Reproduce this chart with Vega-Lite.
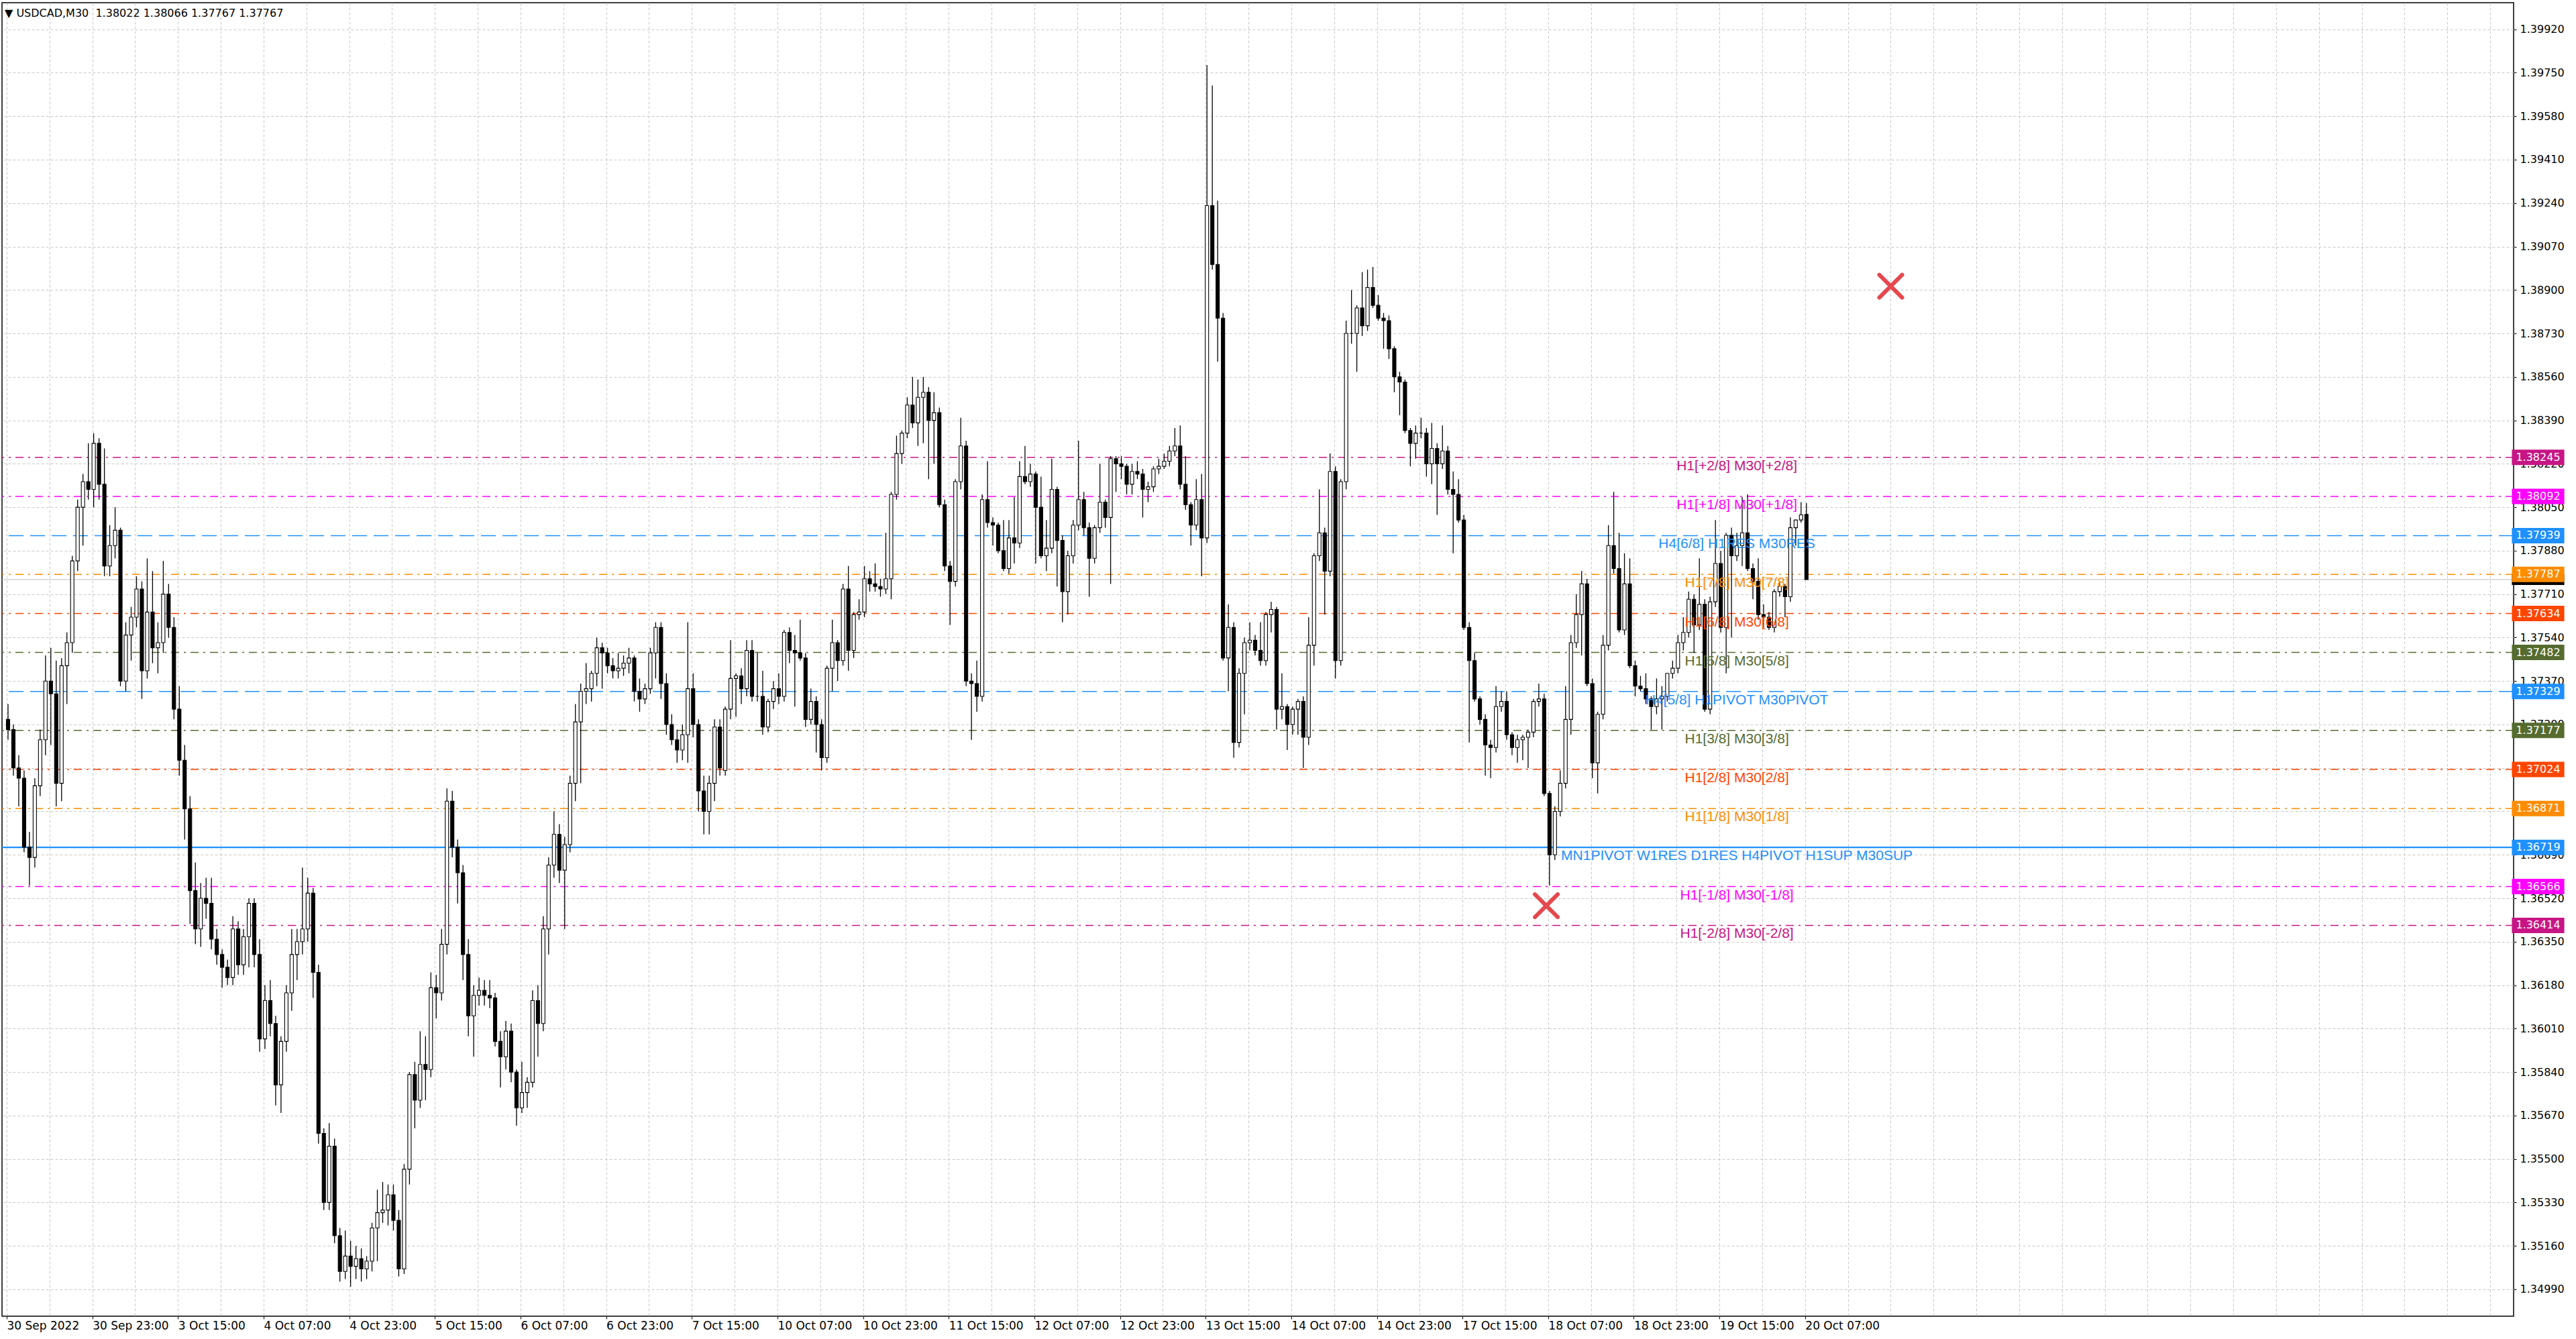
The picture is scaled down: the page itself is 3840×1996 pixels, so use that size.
{
  "$schema": "https://vega.github.io/schema/vega-lite/v6.json",
  "width": 3744,
  "height": 1958,
  "autosize": {"type": "none"},
  "padding": {"left": 3, "top": 4, "right": 93, "bottom": 34},
  "background": "#ffffff",
  "title": {
    "text": "▼ USDCAD,M30\u00a0 1.38022 1.38066 1.37767 1.37767",
    "anchor": "start",
    "frame": "group",
    "offset": -24,
    "dx": 4,
    "font": "DejaVu Sans",
    "fontSize": 16,
    "fontWeight": "normal",
    "color": "#000000"
  },
  "config": {
    "view": {"stroke": "#000000", "strokeWidth": 1.5}
  },
  "resolve": {"axis": {"x": "independent", "y": "independent"}},
  "datasets": {
    "levels": [
      {"v": 1.38245, "t": "H1[+2/8] M30[+2/8]", "k": "p2"},
      {"v": 1.38092, "t": "H1[+1/8] M30[+1/8]", "k": "p1"},
      {"v": 1.37939, "t": "H4[6/8] H1RES M30RES", "k": "res"},
      {"v": 1.37787, "t": "H1[7/8] M30[7/8]", "k": "l7"},
      {"v": 1.37634, "t": "H1[6/8] M30[6/8]", "k": "l6"},
      {"v": 1.37482, "t": "H1[5/8] M30[5/8]", "k": "l5"},
      {"v": 1.37329, "t": "H4[5/8] H1PIVOT M30PIVOT", "k": "piv"},
      {"v": 1.37177, "t": "H1[3/8] M30[3/8]", "k": "l3"},
      {"v": 1.37024, "t": "H1[2/8] M30[2/8]", "k": "l2"},
      {"v": 1.36871, "t": "H1[1/8] M30[1/8]", "k": "l1"},
      {"v": 1.36719, "t": "MN1PIVOT W1RES D1RES H4PIVOT H1SUP M30SUP", "k": "sup"},
      {"v": 1.36566, "t": "H1[-1/8] M30[-1/8]", "k": "m1"},
      {"v": 1.36414, "t": "H1[-2/8] M30[-2/8]", "k": "m2"}
    ],
    "bid": [{"v": 1.37767}],
    "marks": [
      {"i": 351.75, "p": 1.38915},
      {"i": 287.4, "p": 1.36491}
    ],
    "candles": [
      {"i":0,"o":1.3722,"h":1.3728,"l":1.3714,"c":1.3718},
      {"i":1,"o":1.3718,"h":1.3720,"l":1.3700,"c":1.3703},
      {"i":2,"o":1.3703,"h":1.3708,"l":1.3688,"c":1.3699},
      {"i":3,"o":1.3699,"h":1.3702,"l":1.3670,"c":1.3672},
      {"i":4,"o":1.3672,"h":1.3678,"l":1.3657,"c":1.3668},
      {"i":5,"o":1.3668,"h":1.3699,"l":1.3664,"c":1.3696},
      {"i":6,"o":1.3696,"h":1.3718,"l":1.3692,"c":1.3714},
      {"i":7,"o":1.3714,"h":1.3747,"l":1.3708,"c":1.3737},
      {"i":8,"o":1.3737,"h":1.3750,"l":1.3712,"c":1.3732},
      {"i":9,"o":1.3732,"h":1.3745,"l":1.3688,"c":1.3697},
      {"i":10,"o":1.3697,"h":1.3746,"l":1.3690,"c":1.3743},
      {"i":11,"o":1.3743,"h":1.3756,"l":1.3728,"c":1.3752},
      {"i":12,"o":1.3752,"h":1.3786,"l":1.3748,"c":1.3784},
      {"i":13,"o":1.3784,"h":1.3808,"l":1.3780,"c":1.3805},
      {"i":14,"o":1.3805,"h":1.3818,"l":1.3790,"c":1.3815},
      {"i":15,"o":1.3815,"h":1.3830,"l":1.3808,"c":1.3812},
      {"i":16,"o":1.3812,"h":1.3834,"l":1.3805,"c":1.3830},
      {"i":17,"o":1.3830,"h":1.3832,"l":1.3808,"c":1.3814},
      {"i":18,"o":1.3814,"h":1.3828,"l":1.3778,"c":1.3782},
      {"i":19,"o":1.3782,"h":1.3798,"l":1.3778,"c":1.3790},
      {"i":20,"o":1.3790,"h":1.3805,"l":1.3785,"c":1.3796},
      {"i":21,"o":1.3796,"h":1.3797,"l":1.3735,"c":1.3737},
      {"i":22,"o":1.3737,"h":1.3760,"l":1.3733,"c":1.3755},
      {"i":23,"o":1.3755,"h":1.3766,"l":1.3745,"c":1.3762},
      {"i":24,"o":1.3762,"h":1.3778,"l":1.3758,"c":1.3773},
      {"i":25,"o":1.3773,"h":1.3776,"l":1.3730,"c":1.3741},
      {"i":26,"o":1.3741,"h":1.3785,"l":1.3738,"c":1.3764},
      {"i":27,"o":1.3764,"h":1.3780,"l":1.3744,"c":1.3750},
      {"i":28,"o":1.3750,"h":1.3760,"l":1.3740,"c":1.3752},
      {"i":29,"o":1.3752,"h":1.3784,"l":1.3748,"c":1.3771},
      {"i":30,"o":1.3771,"h":1.3775,"l":1.3754,"c":1.3758},
      {"i":31,"o":1.3758,"h":1.3762,"l":1.3722,"c":1.3726},
      {"i":32,"o":1.3726,"h":1.3735,"l":1.3700,"c":1.3706},
      {"i":33,"o":1.3706,"h":1.3712,"l":1.3675,"c":1.3687},
      {"i":34,"o":1.3687,"h":1.3692,"l":1.3642,"c":1.3655},
      {"i":35,"o":1.3655,"h":1.3666,"l":1.3634,"c":1.3640},
      {"i":36,"o":1.3640,"h":1.3658,"l":1.3633,"c":1.3652},
      {"i":37,"o":1.3652,"h":1.3660,"l":1.3644,"c":1.3650},
      {"i":38,"o":1.3650,"h":1.3660,"l":1.3632,"c":1.3636},
      {"i":39,"o":1.3636,"h":1.3640,"l":1.3626,"c":1.3630},
      {"i":40,"o":1.3630,"h":1.3632,"l":1.3617,"c":1.3625},
      {"i":41,"o":1.3625,"h":1.3628,"l":1.3618,"c":1.3621},
      {"i":42,"o":1.3621,"h":1.3645,"l":1.3618,"c":1.3640},
      {"i":43,"o":1.3640,"h":1.3643,"l":1.3622,"c":1.3626},
      {"i":44,"o":1.3626,"h":1.3640,"l":1.3622,"c":1.3637},
      {"i":45,"o":1.3637,"h":1.3652,"l":1.3625,"c":1.3650},
      {"i":46,"o":1.3650,"h":1.3652,"l":1.3625,"c":1.3630},
      {"i":47,"o":1.3630,"h":1.3636,"l":1.3592,"c":1.3597},
      {"i":48,"o":1.3597,"h":1.3618,"l":1.3593,"c":1.3612},
      {"i":49,"o":1.3612,"h":1.3620,"l":1.3598,"c":1.3603},
      {"i":50,"o":1.3603,"h":1.3606,"l":1.3571,"c":1.3579},
      {"i":51,"o":1.3579,"h":1.3598,"l":1.3568,"c":1.3596},
      {"i":52,"o":1.3596,"h":1.3618,"l":1.3592,"c":1.3615},
      {"i":53,"o":1.3615,"h":1.3640,"l":1.3608,"c":1.3630},
      {"i":54,"o":1.3630,"h":1.3640,"l":1.3620,"c":1.3635},
      {"i":55,"o":1.3635,"h":1.3664,"l":1.3630,"c":1.3640},
      {"i":56,"o":1.3640,"h":1.3660,"l":1.3635,"c":1.3654},
      {"i":57,"o":1.3654,"h":1.3656,"l":1.3613,"c":1.3623},
      {"i":58,"o":1.3623,"h":1.3626,"l":1.3556,"c":1.3560},
      {"i":59,"o":1.3560,"h":1.3562,"l":1.3530,"c":1.3533},
      {"i":60,"o":1.3533,"h":1.3564,"l":1.3530,"c":1.3555},
      {"i":61,"o":1.3555,"h":1.3558,"l":1.3517,"c":1.3520},
      {"i":62,"o":1.3520,"h":1.3523,"l":1.3502,"c":1.3506},
      {"i":63,"o":1.3506,"h":1.3522,"l":1.3503,"c":1.3512},
      {"i":64,"o":1.3512,"h":1.3518,"l":1.3500,"c":1.3508},
      {"i":65,"o":1.3508,"h":1.3516,"l":1.3503,"c":1.3511},
      {"i":66,"o":1.3511,"h":1.3515,"l":1.3502,"c":1.3507},
      {"i":67,"o":1.3507,"h":1.3512,"l":1.3503,"c":1.3510},
      {"i":68,"o":1.3510,"h":1.3525,"l":1.3506,"c":1.3523},
      {"i":69,"o":1.3523,"h":1.3538,"l":1.3510,"c":1.3529},
      {"i":70,"o":1.3529,"h":1.3541,"l":1.3525,"c":1.3530},
      {"i":71,"o":1.3530,"h":1.3540,"l":1.3524,"c":1.3536},
      {"i":72,"o":1.3536,"h":1.3540,"l":1.3522,"c":1.3526},
      {"i":73,"o":1.3526,"h":1.3530,"l":1.3504,"c":1.3507},
      {"i":74,"o":1.3507,"h":1.3548,"l":1.3505,"c":1.3546},
      {"i":75,"o":1.3546,"h":1.3584,"l":1.3540,"c":1.3583},
      {"i":76,"o":1.3583,"h":1.3588,"l":1.3562,"c":1.3573},
      {"i":77,"o":1.3573,"h":1.3600,"l":1.3570,"c":1.3587},
      {"i":78,"o":1.3587,"h":1.3598,"l":1.3573,"c":1.3585},
      {"i":79,"o":1.3585,"h":1.3623,"l":1.3582,"c":1.3617},
      {"i":80,"o":1.3617,"h":1.3622,"l":1.3605,"c":1.3615},
      {"i":81,"o":1.3615,"h":1.3640,"l":1.3612,"c":1.3634},
      {"i":82,"o":1.3634,"h":1.3695,"l":1.3630,"c":1.3690},
      {"i":83,"o":1.3690,"h":1.3694,"l":1.3668,"c":1.3672},
      {"i":84,"o":1.3672,"h":1.3675,"l":1.3650,"c":1.3662},
      {"i":85,"o":1.3662,"h":1.3665,"l":1.3620,"c":1.3630},
      {"i":86,"o":1.3630,"h":1.3636,"l":1.3598,"c":1.3606},
      {"i":87,"o":1.3606,"h":1.3618,"l":1.3590,"c":1.3614},
      {"i":88,"o":1.3614,"h":1.3621,"l":1.3610,"c":1.3616},
      {"i":89,"o":1.3616,"h":1.3620,"l":1.3610,"c":1.3614},
      {"i":90,"o":1.3614,"h":1.3620,"l":1.3609,"c":1.3613},
      {"i":91,"o":1.3613,"h":1.3615,"l":1.3594,"c":1.3596},
      {"i":92,"o":1.3596,"h":1.3600,"l":1.3578,"c":1.3590},
      {"i":93,"o":1.3590,"h":1.3604,"l":1.3585,"c":1.3600},
      {"i":94,"o":1.3600,"h":1.3603,"l":1.3580,"c":1.3584},
      {"i":95,"o":1.3584,"h":1.3585,"l":1.3563,"c":1.3570},
      {"i":96,"o":1.3570,"h":1.3588,"l":1.3568,"c":1.3576},
      {"i":97,"o":1.3576,"h":1.3582,"l":1.3570,"c":1.3580},
      {"i":98,"o":1.3580,"h":1.3616,"l":1.3578,"c":1.3612},
      {"i":99,"o":1.3612,"h":1.3618,"l":1.3590,"c":1.3603},
      {"i":100,"o":1.3603,"h":1.3645,"l":1.3600,"c":1.3640},
      {"i":101,"o":1.3640,"h":1.3668,"l":1.3630,"c":1.3665},
      {"i":102,"o":1.3665,"h":1.3686,"l":1.3660,"c":1.3677},
      {"i":103,"o":1.3677,"h":1.3681,"l":1.3658,"c":1.3663},
      {"i":104,"o":1.3663,"h":1.3676,"l":1.3640,"c":1.3673},
      {"i":105,"o":1.3673,"h":1.3700,"l":1.3670,"c":1.3697},
      {"i":106,"o":1.3697,"h":1.3728,"l":1.3690,"c":1.3721},
      {"i":107,"o":1.3721,"h":1.3736,"l":1.3697,"c":1.3733},
      {"i":108,"o":1.3733,"h":1.3744,"l":1.3728,"c":1.3734},
      {"i":109,"o":1.3734,"h":1.3741,"l":1.3729,"c":1.3740},
      {"i":110,"o":1.3740,"h":1.3754,"l":1.3735,"c":1.3750},
      {"i":111,"o":1.3750,"h":1.3752,"l":1.3734,"c":1.3748},
      {"i":112,"o":1.3748,"h":1.3750,"l":1.3740,"c":1.3743},
      {"i":113,"o":1.3743,"h":1.3746,"l":1.3738,"c":1.3741},
      {"i":114,"o":1.3741,"h":1.3748,"l":1.3738,"c":1.3742},
      {"i":115,"o":1.3742,"h":1.3747,"l":1.3739,"c":1.3744},
      {"i":116,"o":1.3744,"h":1.3750,"l":1.3740,"c":1.3746},
      {"i":117,"o":1.3746,"h":1.3747,"l":1.3729,"c":1.3733},
      {"i":118,"o":1.3733,"h":1.3738,"l":1.3725,"c":1.3730},
      {"i":119,"o":1.3730,"h":1.3736,"l":1.3728,"c":1.3734},
      {"i":120,"o":1.3734,"h":1.3750,"l":1.3732,"c":1.3748},
      {"i":121,"o":1.3748,"h":1.3760,"l":1.3738,"c":1.3758},
      {"i":122,"o":1.3758,"h":1.3760,"l":1.3730,"c":1.3736},
      {"i":123,"o":1.3736,"h":1.3740,"l":1.3716,"c":1.3720},
      {"i":124,"o":1.3720,"h":1.3724,"l":1.3712,"c":1.3714},
      {"i":125,"o":1.3714,"h":1.3718,"l":1.3705,"c":1.3710},
      {"i":126,"o":1.3710,"h":1.3720,"l":1.3706,"c":1.3716},
      {"i":127,"o":1.3716,"h":1.3760,"l":1.3705,"c":1.3734},
      {"i":128,"o":1.3734,"h":1.3740,"l":1.3715,"c":1.3720},
      {"i":129,"o":1.3720,"h":1.3722,"l":1.3686,"c":1.3694},
      {"i":130,"o":1.3694,"h":1.3700,"l":1.3677,"c":1.3686},
      {"i":131,"o":1.3686,"h":1.3700,"l":1.3677,"c":1.3697},
      {"i":132,"o":1.3697,"h":1.3722,"l":1.3690,"c":1.3719},
      {"i":133,"o":1.3719,"h":1.3722,"l":1.3700,"c":1.3703},
      {"i":134,"o":1.3702,"h":1.3727,"l":1.3700,"c":1.3726},
      {"i":135,"o":1.3726,"h":1.3753,"l":1.3722,"c":1.3738},
      {"i":136,"o":1.3738,"h":1.3740,"l":1.3723,"c":1.3739},
      {"i":137,"o":1.3739,"h":1.3742,"l":1.3728,"c":1.3734},
      {"i":138,"o":1.3734,"h":1.3753,"l":1.3731,"c":1.3749},
      {"i":139,"o":1.3749,"h":1.3753,"l":1.3729,"c":1.3731},
      {"i":140,"o":1.3731,"h":1.3748,"l":1.3729,"c":1.3731},
      {"i":141,"o":1.3731,"h":1.3741,"l":1.3716,"c":1.3719},
      {"i":142,"o":1.3719,"h":1.3730,"l":1.3717,"c":1.3729},
      {"i":143,"o":1.3729,"h":1.3737,"l":1.3726,"c":1.3734},
      {"i":144,"o":1.3734,"h":1.3740,"l":1.3728,"c":1.3731},
      {"i":145,"o":1.3731,"h":1.3757,"l":1.3729,"c":1.3756},
      {"i":146,"o":1.3756,"h":1.3758,"l":1.3744,"c":1.3749},
      {"i":147,"o":1.3749,"h":1.3755,"l":1.3727,"c":1.3748},
      {"i":148,"o":1.3748,"h":1.3761,"l":1.3745,"c":1.3746},
      {"i":149,"o":1.3746,"h":1.3748,"l":1.3719,"c":1.3722},
      {"i":150,"o":1.3722,"h":1.3734,"l":1.3720,"c":1.3729},
      {"i":151,"o":1.3729,"h":1.3731,"l":1.3709,"c":1.3720},
      {"i":152,"o":1.3720,"h":1.3722,"l":1.3702,"c":1.3707},
      {"i":153,"o":1.3707,"h":1.3743,"l":1.3705,"c":1.3742},
      {"i":154,"o":1.3742,"h":1.3761,"l":1.3733,"c":1.3752},
      {"i":155,"o":1.3752,"h":1.3753,"l":1.3737,"c":1.3745},
      {"i":156,"o":1.3745,"h":1.3775,"l":1.3743,"c":1.3773},
      {"i":157,"o":1.3773,"h":1.3782,"l":1.3741,"c":1.3749},
      {"i":158,"o":1.3749,"h":1.3764,"l":1.3746,"c":1.3763},
      {"i":159,"o":1.3763,"h":1.3769,"l":1.3761,"c":1.3764},
      {"i":160,"o":1.3764,"h":1.3782,"l":1.3762,"c":1.3777},
      {"i":161,"o":1.3777,"h":1.3780,"l":1.3772,"c":1.3775},
      {"i":162,"o":1.3775,"h":1.3783,"l":1.3772,"c":1.3774},
      {"i":163,"o":1.3774,"h":1.3777,"l":1.3770,"c":1.3773},
      {"i":164,"o":1.3773,"h":1.3795,"l":1.3771,"c":1.3777},
      {"i":165,"o":1.3777,"h":1.3811,"l":1.3769,"c":1.3810},
      {"i":166,"o":1.3810,"h":1.3833,"l":1.3808,"c":1.3826},
      {"i":167,"o":1.3826,"h":1.3835,"l":1.3822,"c":1.3834},
      {"i":168,"o":1.3834,"h":1.3848,"l":1.3832,"c":1.3845},
      {"i":169,"o":1.3845,"h":1.3856,"l":1.3836,"c":1.3838},
      {"i":170,"o":1.3838,"h":1.3855,"l":1.3829,"c":1.3848},
      {"i":171,"o":1.3848,"h":1.3856,"l":1.3830,"c":1.3850},
      {"i":172,"o":1.3850,"h":1.3852,"l":1.3816,"c":1.3839},
      {"i":173,"o":1.3839,"h":1.3850,"l":1.3822,"c":1.3842},
      {"i":174,"o":1.3842,"h":1.3844,"l":1.3805,"c":1.3806},
      {"i":175,"o":1.3806,"h":1.3808,"l":1.3780,"c":1.3782},
      {"i":176,"o":1.3782,"h":1.3784,"l":1.3759,"c":1.3776},
      {"i":177,"o":1.3776,"h":1.3816,"l":1.3774,"c":1.3815},
      {"i":178,"o":1.3815,"h":1.3840,"l":1.3812,"c":1.3829},
      {"i":179,"o":1.3829,"h":1.3831,"l":1.3735,"c":1.3737},
      {"i":180,"o":1.3737,"h":1.3740,"l":1.3714,"c":1.3736},
      {"i":181,"o":1.3736,"h":1.3745,"l":1.3725,"c":1.3731},
      {"i":182,"o":1.3731,"h":1.3810,"l":1.3729,"c":1.3808},
      {"i":183,"o":1.3808,"h":1.3823,"l":1.3797,"c":1.3799},
      {"i":184,"o":1.3799,"h":1.3801,"l":1.3790,"c":1.3798},
      {"i":185,"o":1.3798,"h":1.3799,"l":1.3787,"c":1.3788},
      {"i":186,"o":1.3788,"h":1.3800,"l":1.3780,"c":1.3781},
      {"i":187,"o":1.3781,"h":1.3800,"l":1.3779,"c":1.3793},
      {"i":188,"o":1.3793,"h":1.3809,"l":1.3783,"c":1.3791},
      {"i":189,"o":1.3791,"h":1.3823,"l":1.3789,"c":1.3817},
      {"i":190,"o":1.3817,"h":1.3829,"l":1.3814,"c":1.3815},
      {"i":191,"o":1.3815,"h":1.3822,"l":1.3813,"c":1.3818},
      {"i":192,"o":1.3818,"h":1.3819,"l":1.3783,"c":1.3805},
      {"i":193,"o":1.3805,"h":1.3817,"l":1.3785,"c":1.3786},
      {"i":194,"o":1.3786,"h":1.3800,"l":1.3780,"c":1.3789},
      {"i":195,"o":1.3789,"h":1.3824,"l":1.3787,"c":1.3812},
      {"i":196,"o":1.3812,"h":1.3813,"l":1.3774,"c":1.3792},
      {"i":197,"o":1.3792,"h":1.3794,"l":1.3760,"c":1.3772},
      {"i":198,"o":1.3772,"h":1.3788,"l":1.3763,"c":1.3786},
      {"i":199,"o":1.3786,"h":1.3800,"l":1.3783,"c":1.3798},
      {"i":200,"o":1.3798,"h":1.3831,"l":1.3796,"c":1.3808},
      {"i":201,"o":1.3808,"h":1.3811,"l":1.3794,"c":1.3797},
      {"i":202,"o":1.3797,"h":1.3799,"l":1.3770,"c":1.3785},
      {"i":203,"o":1.3785,"h":1.3798,"l":1.3783,"c":1.3797},
      {"i":204,"o":1.3797,"h":1.3822,"l":1.3795,"c":1.3807},
      {"i":205,"o":1.3807,"h":1.3808,"l":1.3797,"c":1.3801},
      {"i":206,"o":1.3801,"h":1.3825,"l":1.3775,"c":1.3824},
      {"i":207,"o":1.3824,"h":1.3825,"l":1.3811,"c":1.3822},
      {"i":208,"o":1.3822,"h":1.3825,"l":1.3816,"c":1.3821},
      {"i":209,"o":1.3821,"h":1.3822,"l":1.3810,"c":1.3814},
      {"i":210,"o":1.3814,"h":1.3822,"l":1.3810,"c":1.3819},
      {"i":211,"o":1.3819,"h":1.3823,"l":1.3816,"c":1.3818},
      {"i":212,"o":1.3818,"h":1.3820,"l":1.3801,"c":1.3812},
      {"i":213,"o":1.3812,"h":1.3815,"l":1.3807,"c":1.3813},
      {"i":214,"o":1.3813,"h":1.3821,"l":1.3811,"c":1.3820},
      {"i":215,"o":1.3820,"h":1.3824,"l":1.3818,"c":1.3821},
      {"i":216,"o":1.3821,"h":1.3826,"l":1.3820,"c":1.3823},
      {"i":217,"o":1.3823,"h":1.3829,"l":1.3821,"c":1.3827},
      {"i":218,"o":1.3827,"h":1.3836,"l":1.3825,"c":1.3829},
      {"i":219,"o":1.3829,"h":1.3837,"l":1.3812,"c":1.3814},
      {"i":220,"o":1.3814,"h":1.3825,"l":1.3804,"c":1.3806},
      {"i":221,"o":1.3806,"h":1.3807,"l":1.3790,"c":1.3798},
      {"i":222,"o":1.3798,"h":1.3816,"l":1.3796,"c":1.3808},
      {"i":223,"o":1.3808,"h":1.3818,"l":1.3778,"c":1.3793},
      {"i":224,"o":1.3793,"h":1.3978,"l":1.3791,"c":1.3923},
      {"i":225,"o":1.3923,"h":1.3970,"l":1.3898,"c":1.3900},
      {"i":226,"o":1.3900,"h":1.3925,"l":1.3862,"c":1.3879},
      {"i":227,"o":1.3879,"h":1.3881,"l":1.3745,"c":1.3746},
      {"i":228,"o":1.3746,"h":1.3767,"l":1.3733,"c":1.3758},
      {"i":229,"o":1.3758,"h":1.3760,"l":1.3707,"c":1.3713},
      {"i":230,"o":1.3713,"h":1.3742,"l":1.3711,"c":1.3740},
      {"i":231,"o":1.3740,"h":1.3754,"l":1.3724,"c":1.3752},
      {"i":232,"o":1.3752,"h":1.3760,"l":1.3749,"c":1.3753},
      {"i":233,"o":1.3753,"h":1.3755,"l":1.3747,"c":1.3749},
      {"i":234,"o":1.3749,"h":1.3760,"l":1.3743,"c":1.3745},
      {"i":235,"o":1.3745,"h":1.3764,"l":1.3743,"c":1.3763},
      {"i":236,"o":1.3763,"h":1.3768,"l":1.3756,"c":1.3765},
      {"i":237,"o":1.3765,"h":1.3766,"l":1.3718,"c":1.3726},
      {"i":238,"o":1.3726,"h":1.3740,"l":1.3722,"c":1.3727},
      {"i":239,"o":1.3727,"h":1.3728,"l":1.3710,"c":1.3720},
      {"i":240,"o":1.3720,"h":1.3727,"l":1.3716,"c":1.3726},
      {"i":241,"o":1.3726,"h":1.3730,"l":1.3716,"c":1.3729},
      {"i":242,"o":1.3729,"h":1.3731,"l":1.3703,"c":1.3715},
      {"i":243,"o":1.3715,"h":1.3762,"l":1.3712,"c":1.3751},
      {"i":244,"o":1.3751,"h":1.3787,"l":1.3743,"c":1.3786},
      {"i":245,"o":1.3786,"h":1.3812,"l":1.3784,"c":1.3795},
      {"i":246,"o":1.3795,"h":1.3797,"l":1.3763,"c":1.3780},
      {"i":247,"o":1.3780,"h":1.3826,"l":1.3778,"c":1.3819},
      {"i":248,"o":1.3819,"h":1.3821,"l":1.3738,"c":1.3745},
      {"i":249,"o":1.3745,"h":1.3816,"l":1.3743,"c":1.3815},
      {"i":250,"o":1.3815,"h":1.3878,"l":1.3812,"c":1.3873},
      {"i":251,"o":1.3873,"h":1.3890,"l":1.3869,"c":1.3873},
      {"i":252,"o":1.3873,"h":1.3884,"l":1.3858,"c":1.3883},
      {"i":253,"o":1.3883,"h":1.3897,"l":1.3872,"c":1.3876},
      {"i":254,"o":1.3876,"h":1.3898,"l":1.3874,"c":1.3891},
      {"i":255,"o":1.3891,"h":1.3899,"l":1.3883,"c":1.3884},
      {"i":256,"o":1.3884,"h":1.3888,"l":1.3878,"c":1.3879},
      {"i":257,"o":1.3879,"h":1.3881,"l":1.3867,"c":1.3878},
      {"i":258,"o":1.3878,"h":1.3880,"l":1.3863,"c":1.3867},
      {"i":259,"o":1.3867,"h":1.3868,"l":1.3850,"c":1.3856},
      {"i":260,"o":1.3856,"h":1.3858,"l":1.3841,"c":1.3854},
      {"i":261,"o":1.3854,"h":1.3855,"l":1.3834,"c":1.3835},
      {"i":262,"o":1.3835,"h":1.3836,"l":1.3821,"c":1.3830},
      {"i":263,"o":1.3830,"h":1.3837,"l":1.3824,"c":1.3834},
      {"i":264,"o":1.3834,"h":1.3840,"l":1.3832,"c":1.3834},
      {"i":265,"o":1.3834,"h":1.3836,"l":1.3817,"c":1.3822},
      {"i":266,"o":1.3822,"h":1.3838,"l":1.3814,"c":1.3828},
      {"i":267,"o":1.3828,"h":1.3830,"l":1.3802,"c":1.3822},
      {"i":268,"o":1.3822,"h":1.3837,"l":1.3820,"c":1.3827},
      {"i":269,"o":1.3827,"h":1.3829,"l":1.3810,"c":1.3812},
      {"i":270,"o":1.3812,"h":1.3819,"l":1.3787,"c":1.3810},
      {"i":271,"o":1.3810,"h":1.3816,"l":1.3799,"c":1.3800},
      {"i":272,"o":1.3800,"h":1.3802,"l":1.3757,"c":1.3758},
      {"i":273,"o":1.3758,"h":1.3760,"l":1.3713,"c":1.3745},
      {"i":274,"o":1.3745,"h":1.3748,"l":1.3729,"c":1.3730},
      {"i":275,"o":1.3730,"h":1.3731,"l":1.3720,"c":1.3722},
      {"i":276,"o":1.3722,"h":1.3724,"l":1.3700,"c":1.3712},
      {"i":277,"o":1.3712,"h":1.3714,"l":1.3699,"c":1.3711},
      {"i":278,"o":1.3711,"h":1.3735,"l":1.3709,"c":1.3727},
      {"i":279,"o":1.3727,"h":1.3733,"l":1.3725,"c":1.3729},
      {"i":280,"o":1.3729,"h":1.3733,"l":1.3714,"c":1.3716},
      {"i":281,"o":1.3716,"h":1.3717,"l":1.3708,"c":1.3711},
      {"i":282,"o":1.3711,"h":1.3716,"l":1.3705,"c":1.3714},
      {"i":283,"o":1.3714,"h":1.3716,"l":1.3706,"c":1.3715},
      {"i":284,"o":1.3715,"h":1.3718,"l":1.3703,"c":1.3717},
      {"i":285,"o":1.3717,"h":1.3730,"l":1.3715,"c":1.3729},
      {"i":286,"o":1.3729,"h":1.3736,"l":1.3727,"c":1.3730},
      {"i":287,"o":1.3730,"h":1.3732,"l":1.3692,"c":1.3693},
      {"i":288,"o":1.3693,"h":1.3694,"l":1.3657,"c":1.3669},
      {"i":289,"o":1.3669,"h":1.3688,"l":1.3667,"c":1.3686},
      {"i":290,"o":1.3686,"h":1.3702,"l":1.3684,"c":1.3697},
      {"i":291,"o":1.3697,"h":1.3735,"l":1.3695,"c":1.3722},
      {"i":292,"o":1.3722,"h":1.3755,"l":1.3716,"c":1.3752},
      {"i":293,"o":1.3752,"h":1.3771,"l":1.3750,"c":1.3763},
      {"i":294,"o":1.3763,"h":1.3780,"l":1.3747,"c":1.3775},
      {"i":295,"o":1.3775,"h":1.3777,"l":1.3735,"c":1.3736},
      {"i":296,"o":1.3736,"h":1.3738,"l":1.3699,"c":1.3705},
      {"i":297,"o":1.3705,"h":1.3725,"l":1.3693,"c":1.3724},
      {"i":298,"o":1.3724,"h":1.3755,"l":1.3722,"c":1.3751},
      {"i":299,"o":1.3751,"h":1.3798,"l":1.3749,"c":1.3790},
      {"i":300,"o":1.3790,"h":1.3811,"l":1.3779,"c":1.3781},
      {"i":301,"o":1.3781,"h":1.3795,"l":1.3756,"c":1.3757},
      {"i":302,"o":1.3757,"h":1.3787,"l":1.3755,"c":1.3775},
      {"i":303,"o":1.3775,"h":1.3785,"l":1.3742,"c":1.3743},
      {"i":304,"o":1.3743,"h":1.3745,"l":1.3731,"c":1.3735},
      {"i":305,"o":1.3735,"h":1.3739,"l":1.3733,"c":1.3734},
      {"i":306,"o":1.3734,"h":1.3740,"l":1.3728,"c":1.3730},
      {"i":307,"o":1.3730,"h":1.3731,"l":1.3718,"c":1.3727},
      {"i":308,"o":1.3727,"h":1.3738,"l":1.3724,"c":1.3730},
      {"i":309,"o":1.3730,"h":1.3735,"l":1.3718,"c":1.3731},
      {"i":310,"o":1.3731,"h":1.3740,"l":1.3729,"c":1.3740},
      {"i":311,"o":1.3740,"h":1.3745,"l":1.3738,"c":1.3742},
      {"i":312,"o":1.3742,"h":1.3755,"l":1.3740,"c":1.3752},
      {"i":313,"o":1.3752,"h":1.3762,"l":1.3749,"c":1.3756},
      {"i":314,"o":1.3756,"h":1.3772,"l":1.3754,"c":1.3769},
      {"i":315,"o":1.3769,"h":1.3771,"l":1.3748,"c":1.3759},
      {"i":316,"o":1.3759,"h":1.3785,"l":1.3757,"c":1.3767},
      {"i":317,"o":1.3767,"h":1.3769,"l":1.3725,"c":1.3726},
      {"i":318,"o":1.3726,"h":1.3770,"l":1.3724,"c":1.3768},
      {"i":319,"o":1.3768,"h":1.3800,"l":1.3766,"c":1.3783},
      {"i":320,"o":1.3783,"h":1.3788,"l":1.3756,"c":1.3758},
      {"i":321,"o":1.3758,"h":1.3795,"l":1.3740,"c":1.3794},
      {"i":322,"o":1.3794,"h":1.3797,"l":1.3754,"c":1.3786},
      {"i":323,"o":1.3786,"h":1.3795,"l":1.3784,"c":1.3790},
      {"i":324,"o":1.3790,"h":1.3809,"l":1.3782,"c":1.3795},
      {"i":325,"o":1.3795,"h":1.3810,"l":1.3780,"c":1.3781},
      {"i":326,"o":1.3781,"h":1.3783,"l":1.3769,"c":1.3776},
      {"i":327,"o":1.3776,"h":1.3785,"l":1.3761,"c":1.3763},
      {"i":328,"o":1.3763,"h":1.3767,"l":1.3758,"c":1.3762},
      {"i":329,"o":1.3762,"h":1.3764,"l":1.3757,"c":1.3758},
      {"i":330,"o":1.3758,"h":1.3773,"l":1.3756,"c":1.3772},
      {"i":331,"o":1.3772,"h":1.3776,"l":1.3770,"c":1.3774},
      {"i":332,"o":1.3774,"h":1.3775,"l":1.3762,"c":1.3770},
      {"i":333,"o":1.3770,"h":1.3801,"l":1.3768,"c":1.3797},
      {"i":334,"o":1.3797,"h":1.3800,"l":1.3790,"c":1.3800},
      {"i":335,"o":1.3800,"h":1.3807,"l":1.3799,"c":1.3802},
      {"i":336,"o":1.38022,"h":1.38066,"l":1.37767,"c":1.37767}
    ]
  },
  "layer": [
    {
      "data": {"name": "bid"},
      "mark": {"type": "rule", "color": "#bdbdbd", "strokeWidth": 1},
      "encoding": {
        "y": {
          "field": "v",
          "type": "quantitative",
          "scale": {"domain": [1.34898, 1.40011], "nice": false, "zero": false},
          "axis": {
            "orient": "right",
            "title": null,
            "values": [1.3499, 1.3516, 1.3533, 1.355, 1.3567, 1.3584, 1.3601, 1.3618, 1.3635, 1.3652, 1.3669, 1.3686, 1.3703, 1.372, 1.3737, 1.3754, 1.3771, 1.3788, 1.3805, 1.3822, 1.3839, 1.3856, 1.3873, 1.389, 1.3907, 1.3924, 1.3941, 1.3958, 1.3975, 1.3992],
            "format": ".5f",
            "grid": true,
            "gridColor": "#c8c8c8",
            "gridDash": [4, 3],
            "gridWidth": 1,
            "domain": false,
            "tickSize": 4,
            "tickColor": "#000000",
            "labelFont": "DejaVu Sans",
            "labelFontSize": 16,
            "labelColor": "#000000",
            "labelPadding": 5,
            "labelOverlap": false,
            "labelBound": false,
            "labelFlush": false
          }
        }
      }
    },
    {
      "data": {"name": "levels"},
      "mark": {"type": "rule"},
      "encoding": {
        "y": {"field": "v", "type": "quantitative", "axis": null},
        "color": {
          "field": "k",
          "type": "nominal",
          "legend": null,
          "scale": {
            "domain": ["p2", "p1", "res", "l7", "l6", "l5", "piv", "l3", "l2", "l1", "sup", "m1", "m2"],
            "range": ["#C71585", "#FF00FF", "#1E90FF", "#FF8C00", "#FF4500", "#556B2F", "#1E90FF", "#556B2F", "#FF4500", "#FF8C00", "#1E90FF", "#FF00FF", "#C71585"]
          }
        },
        "strokeDash": {
          "condition": [
            {"test": "datum.k === 'sup'", "value": [1, 0]},
            {"test": "datum.k === 'res' || datum.k === 'piv'", "value": [22, 10]}
          ],
          "value": [12, 7, 3, 7]
        },
        "strokeWidth": {
          "condition": {"test": "datum.k === 'sup'", "value": 2.2},
          "value": 1.5
        }
      }
    },
    {
      "data": {"name": "candles"},
      "mark": {"type": "rule", "color": "#000000", "strokeWidth": 1.3},
      "encoding": {
        "x": {
          "field": "i",
          "type": "quantitative",
          "scale": {"domain": [-0.5, 467.5], "nice": false, "zero": false},
          "axis": {
            "orient": "bottom",
            "title": null,
            "values": [-0.25, 7.75, 15.75, 23.75, 31.75, 39.75, 47.75, 55.75, 63.75, 71.75, 79.75, 87.75, 95.75, 103.75, 111.75, 119.75, 127.75, 135.75, 143.75, 151.75, 159.75, 167.75, 175.75, 183.75, 191.75, 199.75, 207.75, 215.75, 223.75, 231.75, 239.75, 247.75, 255.75, 263.75, 271.75, 279.75, 287.75, 295.75, 303.75, 311.75, 319.75, 327.75, 335.75, 343.75, 351.75, 359.75, 367.75, 375.75, 383.75, 391.75, 399.75, 407.75, 415.75, 423.75, 431.75, 439.75, 447.75, 455.75, 463.75],
            "grid": true,
            "gridColor": "#c8c8c8",
            "gridDash": [4, 3],
            "gridWidth": 1,
            "domain": false,
            "tickSize": 4,
            "tickColor": "#000000",
            "tickOpacity": {
              "condition": {"test": "datum.value < 340 && round(datum.value + 0.25) % 16 == 0", "value": 1},
              "value": 0
            },
            "labelExpr": "datum.value < 340 && round(datum.value + 0.25) % 16 == 0 ? ['30 Sep 2022','30 Sep 23:00','3 Oct 15:00','4 Oct 07:00','4 Oct 23:00','5 Oct 15:00','6 Oct 07:00','6 Oct 23:00','7 Oct 15:00','10 Oct 07:00','10 Oct 23:00','11 Oct 15:00','12 Oct 07:00','12 Oct 23:00','13 Oct 15:00','14 Oct 07:00','14 Oct 23:00','17 Oct 15:00','18 Oct 07:00','18 Oct 23:00','19 Oct 15:00','20 Oct 07:00'][round(datum.value + 0.25) / 16] : ''",
            "labelAlign": "left",
            "labelBaseline": "top",
            "labelPadding": 2,
            "labelFont": "DejaVu Sans",
            "labelFontSize": 17,
            "labelColor": "#000000",
            "labelOverlap": false,
            "labelBound": false,
            "labelFlush": false
          }
        },
        "y": {"field": "l", "type": "quantitative", "axis": null},
        "y2": {"field": "h"}
      }
    },
    {
      "data": {"name": "candles"},
      "mark": {"type": "bar", "size": 5, "stroke": "#000000", "strokeWidth": 1.1},
      "encoding": {
        "x": {"field": "i", "type": "quantitative", "axis": null},
        "y": {"field": "o", "type": "quantitative", "axis": null},
        "y2": {"field": "c"},
        "fill": {
          "condition": {"test": "datum.c >= datum.o", "value": "#ffffff"},
          "value": "#000000"
        }
      }
    },
    {
      "data": {"name": "levels"},
      "mark": {
        "type": "text",
        "align": "center",
        "baseline": "top",
        "dy": 2,
        "font": "Liberation Sans",
        "fontSize": 21
      },
      "encoding": {
        "x": {"datum": 323, "type": "quantitative", "axis": null},
        "y": {"field": "v", "type": "quantitative", "axis": null},
        "text": {"field": "t"},
        "color": {"field": "k", "type": "nominal", "legend": null}
      }
    },
    {
      "data": {"name": "marks"},
      "mark": {
        "type": "point",
        "shape": "M-1,-1L1,1M-1,1L1,-1",
        "filled": false,
        "size": 1156,
        "stroke": "#e5484d",
        "strokeWidth": 6,
        "strokeCap": "round",
        "opacity": 1
      },
      "encoding": {
        "x": {"field": "i", "type": "quantitative", "axis": null},
        "y": {"field": "p", "type": "quantitative", "axis": null}
      }
    },
    {
      "data": {"name": "bid"},
      "mark": {"type": "bar", "size": 16, "color": "#000000"},
      "encoding": {
        "x": {"datum": 467.8, "type": "quantitative", "axis": null},
        "x2": {"datum": 477.6},
        "y": {"field": "v", "type": "quantitative", "axis": null}
      }
    },
    {
      "data": {"name": "levels"},
      "mark": {"type": "bar", "size": 23},
      "encoding": {
        "x": {"datum": 467.8, "type": "quantitative", "axis": null},
        "x2": {"datum": 477.6},
        "y": {"field": "v", "type": "quantitative", "axis": null},
        "color": {"field": "k", "type": "nominal", "legend": null}
      }
    },
    {
      "data": {"name": "levels"},
      "mark": {
        "type": "text",
        "align": "center",
        "baseline": "middle",
        "font": "DejaVu Sans",
        "fontSize": 16,
        "color": "#ffffff"
      },
      "encoding": {
        "x": {"datum": 472.7, "type": "quantitative", "axis": null},
        "y": {"field": "v", "type": "quantitative", "axis": null},
        "text": {"field": "v", "type": "quantitative", "format": ".5f"}
      }
    }
  ]
}
